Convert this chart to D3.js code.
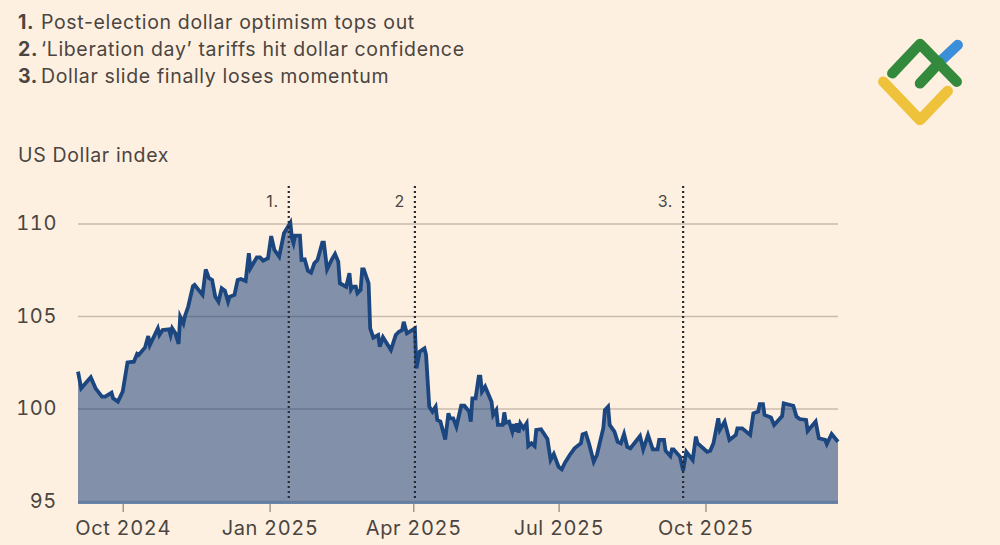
<!DOCTYPE html>
<html>
<head>
<meta charset="utf-8">
<script src="https://cdn.jsdelivr.net/npm/d3@7"></script>
<style>
  html, body { margin: 0; padding: 0; background: #fef0e1; }
  svg { display: block; }
  text { font-family: "Inter", "Noto Sans", sans-serif; fill: #4a4540; letter-spacing: 0.65px; }
  .tick text { font-feature-settings: "tnum"; }
</style>
</head>
<body>
<div class="chart"></div>
<script>
// Chart data, days counted from the first day of the series
var startDate = new Date(2024, 8, 3);
var endDate = new Date(2025, 11, 23);

var days = [0,2,8,11,15,17,21,22,25,28,31,35,37,38,42,44,45,50,51,53,57,58,59,61,63,64,66,67,69,72,73,78,80,82,84,86,88,90,92,94,95,98,100,102,105,107,108,112,114,116,119,121,123,126,129,133,134,135,136,139,140,142,144,146,148,150,153,154,156,159,161,163,164,168,170,171,172,174,175,177,178,179,182,183,185,188,189,191,196,199,201,203,204,206,211,212,214,217,218,220,222,224,225,227,230,232,233,235,237,240,242,245,246,247,249,251,252,253,255,259,260,262,263,266,267,268,270,272,273,274,275,276,277,279,281,282,284,286,287,290,294,296,298,301,303,305,308,311,315,316,318,320,323,325,329,330,332,333,336,338,340,342,344,346,352,354,357,360,363,364,367,368,371,372,373,377,379,381,385,387,388,394,396,398,401,402,405,408,412,413,416,421,423,426,427,429,430,434,436,441,442,448,450,452,456,457,462,464,468,469,472,476];

var values = [101.99,101.09,101.69,101.09,100.64,100.64,100.85,100.55,100.37,100.91,102.49,102.53,102.95,102.89,103.3,103.92,103.43,104.33,103.97,104.24,104.28,103.97,104.33,104.06,103.49,104.96,104.6,105.0,105.5,106.62,106.68,106.14,107.52,107.04,106.95,106.04,105.77,106.5,106.37,105.77,106.04,106.14,106.95,107.0,106.89,108.39,107.58,108.17,108.17,107.99,108.12,109.32,108.57,108.21,109.47,110.04,109.2,108.93,109.34,109.34,108.03,108.06,107.45,107.34,107.85,108.03,108.96,108.96,107.52,108.06,108.35,107.94,106.77,106.58,107.31,106.44,106.58,106.58,106.23,106.41,107.52,107.52,106.77,104.33,103.83,103.97,103.34,103.85,103.16,103.97,104.15,104.24,104.69,104.06,104.33,102.17,103.07,103.25,102.89,100.1,99.83,100.1,99.38,99.29,98.33,99.74,99.47,99.47,99.02,100.15,100.15,99.83,99.29,100.55,100.55,101.72,101.72,100.91,101.18,100.37,99.65,99.92,99.11,99.11,99.79,99.23,99.29,98.75,99.16,98.75,99.2,98.69,99.2,98.93,99.2,97.97,98.12,97.97,98.84,98.88,98.35,97.22,97.54,96.85,96.71,97.07,97.49,97.85,98.12,98.6,98.66,98.12,97.12,97.49,98.93,99.92,100.1,99.11,98.75,98.2,98.12,98.62,97.93,97.85,98.51,97.79,98.57,97.79,97.79,98.3,98.3,97.72,97.43,97.79,97.79,97.4,96.64,97.66,97.22,98.48,98.12,97.66,97.72,98.12,99.47,98.84,99.29,98.3,98.57,98.93,98.93,98.57,99.74,99.83,100.24,100.24,99.65,99.52,99.11,99.59,100.28,100.15,99.56,99.43,99.38,98.78,99.29,98.39,98.3,98.08,98.62,98.2];

var yTicks = [95, 100, 105, 110];
var xTicks = [new Date(2024, 9, 1), new Date(2025, 0, 1), new Date(2025, 3, 1), new Date(2025, 6, 1), new Date(2025, 9, 1)];
var xTickLabels = ["Oct 2024", "Jan 2025", "Apr 2025", "Jul 2025", "Oct 2025"];

var eventDates = [new Date(2025, 0, 13), new Date(2025, 3, 2), new Date(2025, 8, 17)];
var eventLabels = ["1.", "2", "3."];

var notes = [
  ["1.", "Post-election dollar optimism tops out"],
  ["2.", "\u2018Liberation day\u2019 tariffs hit dollar confidence"],
  ["3.", "Dollar slide finally loses momentum"]
];

var data = days.map(function(d, i) {
  return { date: d3.timeDay.offset(startDate, d), value: values[i] };
});

var svgWidth = 1000;
var svgHeight = 545;

var svg = d3.select(".chart")
  .append("svg")
  .attr("width", svgWidth)
  .attr("height", svgHeight);

// Scales
var x = d3.scaleTime().domain([startDate, endDate]).range([78, 838]);
var y = d3.scaleLinear().domain([95, 110]).range([501, 223.5]);

// Header notes
notes.forEach(function(n, i) {
  var t = svg.append("text")
    .attr("x", 18)
    .attr("y", 29 + i * 27)
    .attr("font-size", "19.5px");
  t.append("tspan").attr("font-weight", 700).text(n[0]);
  t.append("tspan").attr("x", 41).text(n[1]);
});

svg.append("text")
  .attr("x", 18)
  .attr("y", 162)
  .attr("font-size", "19.5px")
  .text("US Dollar index");

// Y axis and gridlines
var yAxis = svg.append("g")
  .attr("transform", "translate(78,0)")
  .call(d3.axisLeft(y).tickValues(yTicks).tickSize(-760).tickPadding(21));
yAxis.select(".domain").remove();
yAxis.selectAll("line").attr("stroke", "#c9bcae").attr("stroke-width", 1.5);
yAxis.selectAll("text")
  .attr("font-size", "20px")
  .attr("dy", "0.32em")
  .style("font-family", "Inter, sans-serif");

// Area and line
var area = d3.area()
  .x(function(d) { return x(d.date); })
  .y0(y(94.84))
  .y1(function(d) { return y(d.value); });

var line = d3.line()
  .x(function(d) { return x(d.date); })
  .y(function(d) { return y(d.value); });

svg.append("path")
  .datum(data)
  .attr("d", area)
  .attr("fill", "#0f3a75")
  .attr("fill-opacity", 0.52);

svg.append("line")
  .attr("x1", 78).attr("x2", 838)
  .attr("y1", y(94.92)).attr("y2", y(94.92))
  .attr("stroke", "#6580a6")
  .attr("stroke-width", 2.5);

svg.append("path")
  .datum(data)
  .attr("d", line)
  .attr("fill", "none")
  .attr("stroke", "#1b4680")
  .attr("stroke-width", 3.8)
  .attr("stroke-linejoin", "miter");

// X axis
var xAxis = svg.append("g")
  .attr("transform", "translate(0,504)")
  .call(d3.axisBottom(x)
    .tickValues(xTicks)
    .tickSize(8)
    .tickPadding(9)
    .tickFormat(function(d, i) { return xTickLabels[i]; }));
xAxis.select(".domain").remove();
xAxis.selectAll("line").attr("stroke", "#8a827b").attr("stroke-width", 1.2);
xAxis.selectAll("text")
  .attr("font-size", "20px")
  .style("font-family", "Inter, sans-serif");

// Event markers
svg.selectAll(".event")
  .data(eventDates)
  .enter()
  .append("line")
  .attr("class", "event")
  .attr("x1", function(d) { return x(d); })
  .attr("x2", function(d) { return x(d); })
  .attr("y1", 186)
  .attr("y2", 501)
  .attr("stroke", "#2a2a33")
  .attr("stroke-width", 2.2)
  .attr("stroke-dasharray", "2,3");

svg.selectAll(".event-label")
  .data(eventDates)
  .enter()
  .append("text")
  .attr("class", "event-label")
  .attr("x", function(d) { return x(d) - 10; })
  .attr("y", 207)
  .attr("text-anchor", "end")
  .attr("font-size", "16px")
  .text(function(d, i) { return eventLabels[i]; });

// Logo
var logo = svg.append("g")
  .attr("fill", "none")
  .attr("stroke-width", 10.5)
  .attr("stroke-linecap", "round")
  .attr("stroke-linejoin", "round");
logo.append("path").attr("d", "M941.7,60L957.7,45").attr("stroke", "#3b8fd8");
logo.append("path").attr("d", "M883.3,81.7L920,120L947.7,91").attr("stroke", "#efc23c");
logo.append("path").attr("d", "M892.3,73.3L920,44L956.7,81.7").attr("stroke", "#348a3c");
logo.append("path").attr("d", "M920,83.3L939.3,62.7").attr("stroke", "#348a3c");
</script>
</body>
</html>
